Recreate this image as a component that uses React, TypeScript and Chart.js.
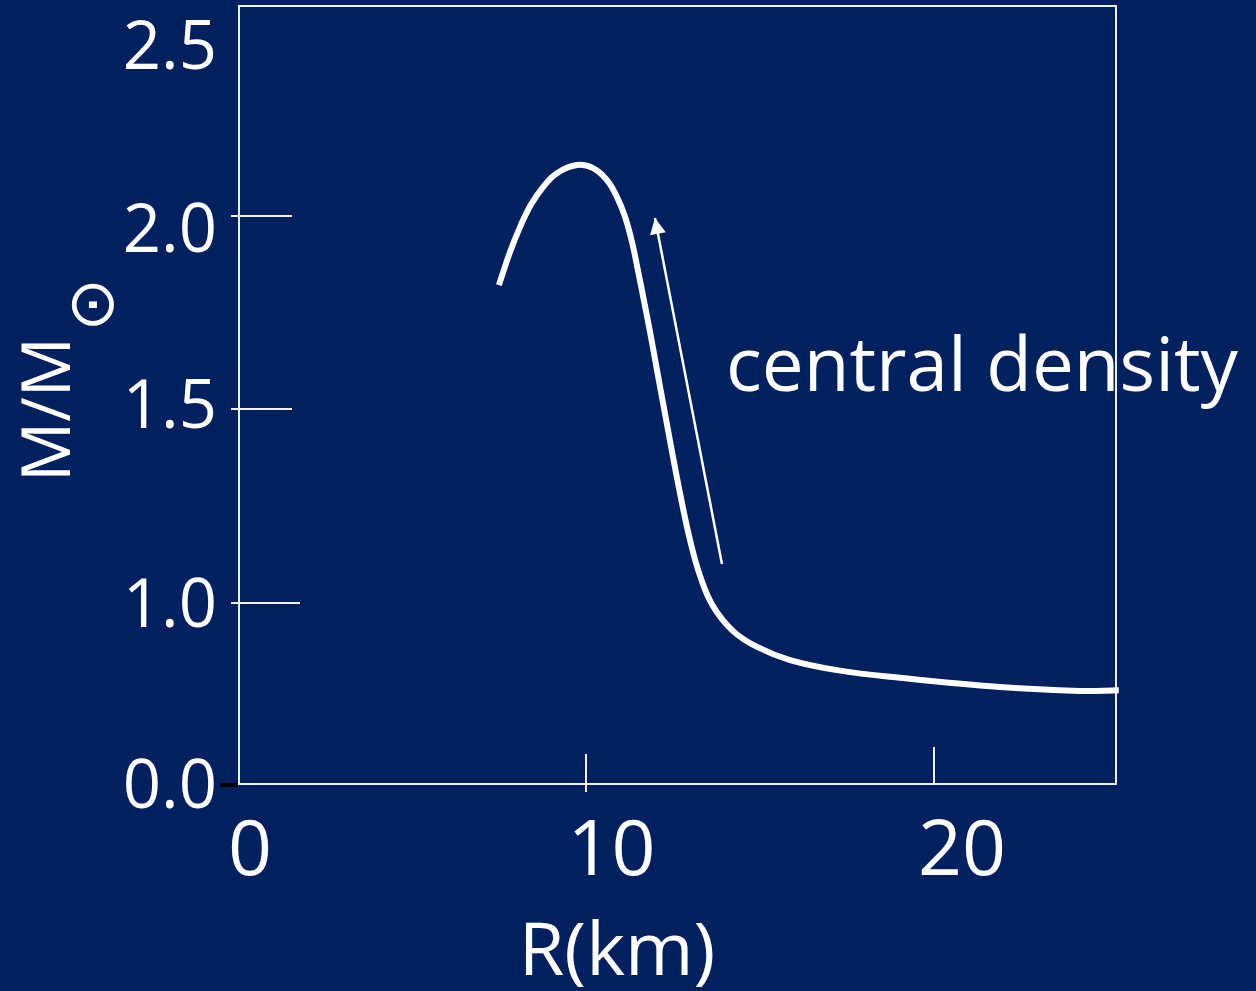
import React, { useEffect, useRef } from "react";
import { Chart, registerables } from "chart.js";

Chart.register(...registerables);

// Mass–radius curve (R in km, M in solar masses, as read on the plot's scale)
const R_KM = [7.48, 7.8, 8.09, 8.4, 8.75, 9.15, 9.73, 10.19, 10.59, 10.88, 11.11, 11.31, 11.48, 11.65, 11.83, 12.03, 12.23, 12.46, 12.69, 12.98, 13.27, 13.64, 14.22, 14.91, 15.86, 17.21, 19.02, 21.9, 24.2, 25.32];
const MASS = [1.822, 1.908, 1.973, 2.03, 2.076, 2.112, 2.133, 2.125, 2.094, 2.05, 1.999, 1.934, 1.861, 1.784, 1.701, 1.602, 1.504, 1.392, 1.284, 1.162, 1.069, 0.991, 0.926, 0.885, 0.851, 0.825, 0.805, 0.781, 0.771, 0.773];

// "central density" arrow (tail -> tip)
const ARROW_R = [13.9, 11.97];
const ARROW_M = [1.1, 1.996];

// Axes
const X_MIN = 0;
const X_MAX = 25.24;
const Y_MIN = 0.53;
const Y_MAX = 2.545;
const X_TICK_VALUES = [0, 10, 20];
const X_TICK_LABELS = ["0", "10", "20"];
const Y_TICK_VALUES = [0.53, 1.0, 1.5, 2.0, 2.5];
const Y_TICK_LABELS = ["0.0", "1.0", "1.5", "2.0", "2.5"];
const Y_MARK_VALUES = [1.0, 1.5, 2.0];
const X_MARK_VALUES = [10, 20];

const X_TITLE = "R(km)";
const Y_TITLE = "M/M";
const Y_TITLE_SUB = "\u2299";
const ANNOTATION = "central density";

const BG = "#00205f";
const FG = "#ffffff";

export default function App() {
  const canvasRef = useRef<HTMLCanvasElement | null>(null);

  useEffect(() => {
    document.body.style.margin = "0";
    document.body.style.background = BG;
    const canvas = canvasRef.current;
    if (!canvas) return;

    const yLabelNudge = [0, 0, -5, 12, 22];
    const xLabelNudge = [11, 25, 28];
    const yMarkRight = [300, 292, 292];
    const xMarkTop = [754, 747];

    const decor = {
      id: "decor",
      beforeDraw(chart: any) {
        const ctx = chart.ctx;
        ctx.save();
        ctx.fillStyle = BG;
        ctx.fillRect(0, 0, chart.width, chart.height);
        ctx.restore();
      },
      beforeDatasetsDraw(chart: any) {
        const ctx = chart.ctx;
        const a = chart.chartArea;
        const xs = chart.scales.x;
        const ys = chart.scales.y;
        ctx.save();
        ctx.strokeStyle = "#f0f0f0";
        ctx.lineWidth = 2;
        ctx.strokeRect(a.left, a.top, a.right - a.left, a.bottom - a.top);
        Y_MARK_VALUES.forEach((v, i) => {
          const y = Math.round(ys.getPixelForValue(v));
          ctx.beginPath();
          ctx.moveTo(a.left - 8, y);
          ctx.lineTo(yMarkRight[i], y);
          ctx.stroke();
        });
        X_MARK_VALUES.forEach((v, i) => {
          const x = Math.round(xs.getPixelForValue(v));
          ctx.beginPath();
          ctx.moveTo(x, xMarkTop[i]);
          ctx.lineTo(x, i === 0 ? a.bottom + 8 : a.bottom);
          ctx.stroke();
        });
        ctx.strokeStyle = "#000000";
        ctx.lineWidth = 4;
        ctx.beginPath();
        ctx.moveTo(a.left - 19, a.bottom + 1);
        ctx.lineTo(a.left - 1, a.bottom + 1);
        ctx.stroke();
        ctx.restore();
      },
      afterDatasetsDraw(chart: any) {
        const ctx = chart.ctx;
        const xs = chart.scales.x;
        const ys = chart.scales.y;
        const a = chart.chartArea;
        ctx.save();
        // arrowhead
        const tx = xs.getPixelForValue(ARROW_R[1]);
        const ty = ys.getPixelForValue(ARROW_M[1]);
        const fx = xs.getPixelForValue(ARROW_R[0]);
        const fy = ys.getPixelForValue(ARROW_M[0]);
        const ang = Math.atan2(ty - fy, tx - fx);
        const len = 16;
        const hw = 8;
        ctx.fillStyle = FG;
        ctx.beginPath();
        ctx.moveTo(tx, ty);
        ctx.lineTo(tx - len * Math.cos(ang) + hw * Math.sin(ang), ty - len * Math.sin(ang) - hw * Math.cos(ang));
        ctx.lineTo(tx - len * Math.cos(ang) - hw * Math.sin(ang), ty - len * Math.sin(ang) + hw * Math.cos(ang));
        ctx.closePath();
        ctx.fill();

        // tick labels
        ctx.fillStyle = FG;
        ctx.font = '67px "Open Sans"';
        ctx.textAlign = "right";
        ctx.textBaseline = "alphabetic";
        Y_TICK_VALUES.forEach((v, i) => {
          const y = ys.getPixelForValue(v) + yLabelNudge[i];
          ctx.fillText(Y_TICK_LABELS[i], a.left - 22, y + 24);
        });
        ctx.font = '77px "Open Sans"';
        ctx.textAlign = "center";
        X_TICK_VALUES.forEach((v, i) => {
          const x = xs.getPixelForValue(v) + xLabelNudge[i];
          ctx.fillText(X_TICK_LABELS[i], x, a.bottom + 91);
        });

        // x title
        ctx.font = '74px "Open Sans"';
        ctx.textAlign = "center";
        ctx.fillText(X_TITLE, 617, 975);

        // annotation
        ctx.font = '75px "Open Sans"';
        ctx.textAlign = "left";
        const aw = ctx.measureText(ANNOTATION).width;
        ctx.save();
        ctx.translate(726, 391);
        ctx.scale(512 / aw, 1);
        ctx.fillText(ANNOTATION, 0, 0);
        ctx.restore();

        // y title (rotated)
        ctx.save();
        ctx.translate(70, 482);
        ctx.rotate(-Math.PI / 2);
        ctx.font = '67px "Open Sans"';
        ctx.textAlign = "left";
        ctx.fillText(Y_TITLE, 0, 0);
        const tw = ctx.measureText(Y_TITLE).width;
        ctx.font = '64px "DejaVu Sans"';
        const m = ctx.measureText(Y_TITLE_SUB);
        const gcx = (m.actualBoundingBoxRight - m.actualBoundingBoxLeft) / 2;
        const gcy = (m.actualBoundingBoxDescent - m.actualBoundingBoxAscent) / 2;
        const cx = tw + 32;
        const cy = 22;
        ctx.fillText(Y_TITLE_SUB, cx - gcx, cy - gcy);
        ctx.restore();

        ctx.restore();
      },
    };

    const chart = new Chart(canvas, {
      type: "scatter",
      data: {
        datasets: [
          {
            data: R_KM.map((r, i) => ({ x: r, y: MASS[i] })),
            showLine: true,
            borderColor: FG,
            borderWidth: 6,
            pointRadius: 0,
            tension: 0.4,
            clip: false as any,
            borderCapStyle: "butt",
            borderJoinStyle: "round",
          },
          {
            data: ARROW_R.map((r, i) => ({ x: r, y: ARROW_M[i] })),
            showLine: true,
            borderColor: FG,
            borderWidth: 2.5,
            pointRadius: 0,
            clip: false as any,
          },
        ],
      },
      options: {
        responsive: false,
        animation: false,
        events: [],
        layout: { padding: { left: 239, right: 140, top: 6, bottom: 207 } },
        plugins: { legend: { display: false }, tooltip: { enabled: false } },
        scales: {
          x: { type: "linear", min: X_MIN, max: X_MAX, display: false },
          y: { type: "linear", min: Y_MIN, max: Y_MAX, display: false },
        },
      },
      plugins: [decor],
    });

    return () => chart.destroy();
  }, []);

  return (
    <div style={{ position: "absolute", left: 0, top: 0, width: 1256, height: 991, background: BG }}>
      <canvas ref={canvasRef} width={1256} height={991} />
    </div>
  );
}
